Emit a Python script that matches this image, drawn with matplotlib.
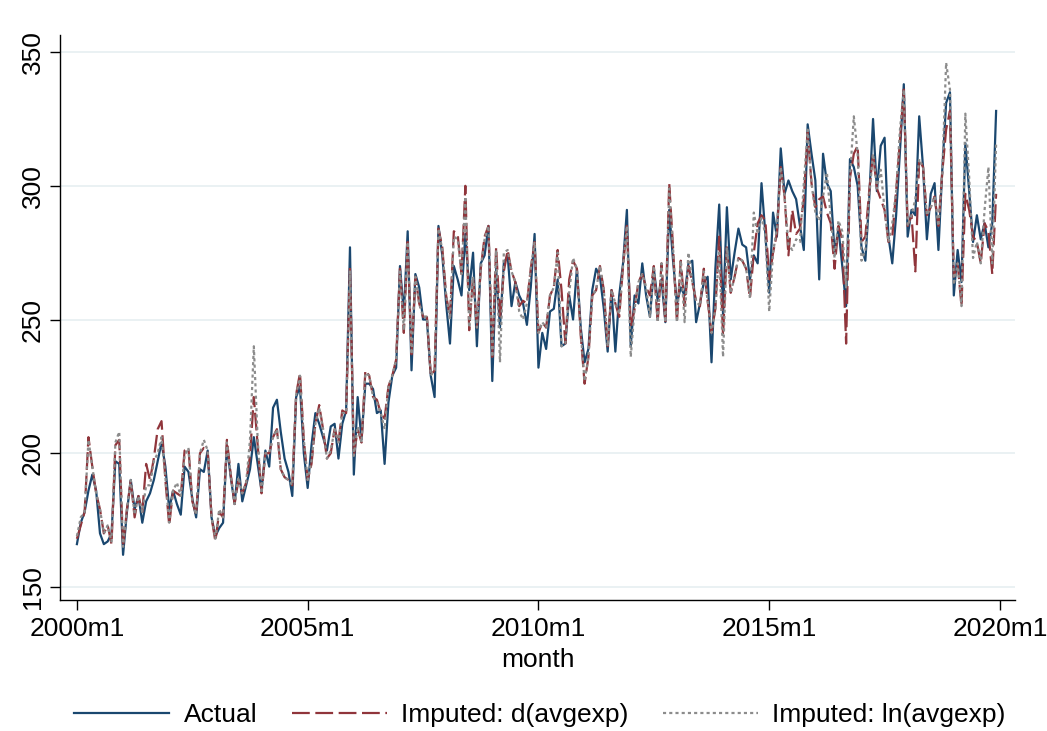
import matplotlib
matplotlib.use("Agg")
import matplotlib.pyplot as plt
import numpy as np

plt.rcParams['font.family'] = ['Liberation Sans', 'DejaVu Sans']

# monthly series, 2000m1 .. 2019m12
actual = [
    166, 174, 178, 186, 192, 186, 170, 166, 167, 170,
    197, 196, 162, 178, 190, 179, 184, 174, 182, 185,
    190, 197, 204, 195, 179, 186, 181, 177, 195, 193,
    183, 176, 194, 193, 201, 176, 169, 172, 174, 203,
    191, 181, 196, 182, 188, 194, 206, 196, 186, 201,
    195, 217, 220, 208, 198, 193, 184, 221, 225, 200,
    187, 203, 215, 211, 206, 201, 210, 211, 198, 211,
    216, 277, 192, 221, 205, 226, 226, 224, 215, 216,
    196, 219, 229, 232, 270, 252, 283, 231, 267, 262,
    250, 250, 229, 221, 285, 274, 256, 241, 270, 265,
    259, 282, 261, 275, 240, 271, 274, 285, 227, 269,
    247, 271, 274, 255, 264, 259, 256, 248, 262, 282,
    232, 245, 239, 253, 254, 265, 240, 241, 259, 250,
    269, 247, 234, 239, 261, 269, 266, 254, 238, 261,
    238, 259, 271, 291, 240, 259, 256, 271, 259, 251,
    269, 257, 265, 249, 291, 272, 256, 262, 259, 271,
    272, 249, 256, 264, 266, 234, 269, 293, 252, 292,
    265, 275, 284, 278, 277, 265, 274, 271, 301, 282,
    260, 290, 281, 314, 297, 302, 298, 295, 285, 276,
    323, 312, 302, 265, 312, 301, 298, 275, 284, 270,
    255, 310, 307, 300, 277, 272, 295, 325, 298, 315,
    318, 281, 271, 289, 313, 338, 281, 291, 289, 326,
    307, 280, 297, 301, 276, 306, 331, 335, 259, 276,
    264, 316, 298, 279, 289, 280, 286, 277, 286, 328,
]

imp_d = [
    168, 173, 178, 206, 195, 185, 179, 170, 173, 166,
    203, 205, 165, 179, 190, 176, 184, 178, 196, 190,
    198, 209, 212, 190, 173, 186, 185, 184, 201, 202,
    182, 177, 200, 202, 201, 176, 167, 178, 176, 205,
    192, 181, 190, 185, 189, 199, 221, 203, 185, 200,
    200, 206, 209, 194, 191, 190, 188, 222, 230, 205,
    190, 196, 211, 218, 209, 198, 200, 209, 204, 216,
    215, 270, 199, 209, 204, 231, 229, 221, 220, 215,
    213, 225, 229, 235, 269, 245, 279, 237, 266, 256,
    251, 251, 229, 231, 284, 277, 259, 251, 283, 282,
    267, 300, 246, 266, 247, 269, 281, 285, 236, 277,
    250, 268, 276, 268, 264, 255, 257, 256, 269, 279,
    245, 249, 247, 259, 262, 276, 261, 241, 265, 272,
    269, 244, 226, 236, 259, 261, 270, 261, 240, 261,
    256, 251, 270, 285, 247, 254, 264, 267, 262, 259,
    270, 249, 271, 249, 301, 277, 249, 272, 255, 270,
    264, 257, 255, 269, 257, 245, 254, 281, 244, 277,
    260, 266, 273, 272, 269, 258, 275, 286, 289, 287,
    265, 275, 282, 307, 296, 274, 291, 282, 284, 295,
    320, 301, 292, 295, 296, 290, 286, 269, 285, 280,
    241, 303, 312, 315, 279, 281, 298, 312, 299, 295,
    291, 279, 281, 298, 317, 336, 285, 289, 268, 310,
    307, 289, 292, 296, 285, 305, 321, 328, 266, 271,
    255, 297, 291, 281, 279, 271, 286, 283, 267, 297,
]

imp_ln = [
    169, 176, 178, 205, 195, 185, 179, 170, 173, 167,
    204, 208, 165, 179, 190, 177, 184, 178, 188, 188,
    197, 200, 206, 191, 174, 186, 189, 184, 199, 202,
    182, 177, 200, 205, 201, 176, 168, 179, 176, 204,
    192, 181, 191, 185, 189, 205, 240, 205, 185, 200,
    200, 206, 209, 194, 191, 190, 188, 222, 229, 205,
    190, 197, 211, 217, 209, 198, 201, 209, 204, 215,
    215, 268, 199, 210, 204, 230, 229, 221, 219, 215,
    209, 225, 229, 235, 268, 246, 279, 237, 266, 256,
    251, 251, 229, 231, 284, 276, 259, 250, 281, 280,
    267, 296, 247, 266, 247, 269, 280, 285, 236, 276,
    234, 275, 276, 268, 264, 253, 250, 256, 269, 279,
    245, 249, 247, 259, 262, 275, 240, 241, 260, 273,
    269, 245, 227, 236, 259, 261, 270, 261, 240, 261,
    256, 252, 270, 285, 236, 254, 264, 267, 262, 251,
    270, 249, 271, 249, 299, 277, 249, 272, 249, 275,
    264, 257, 255, 268, 257, 245, 254, 275, 236, 277,
    260, 266, 273, 272, 269, 258, 290, 282, 288, 282,
    253, 275, 284, 307, 296, 278, 276, 280, 279, 301,
    321, 301, 290, 287, 296, 305, 288, 273, 287, 283,
    262, 303, 326, 312, 272, 276, 296, 312, 299, 306,
    291, 279, 286, 298, 321, 336, 285, 289, 295, 310,
    307, 289, 292, 296, 285, 305, 346, 336, 263, 271,
    255, 327, 303, 273, 279, 271, 291, 307, 271, 316,
]

tick_months = [0, 60, 120, 180, 240]
tick_labels = ['2000m1', '2005m1', '2010m1', '2015m1', '2020m1']
y_ticks = [150, 200, 250, 300, 350]

months = np.arange(len(actual))

fig = plt.figure(figsize=(10.47, 7.31), dpi=100)
ax = fig.add_axes([0.0573, 0.1792, 0.9121, 0.7729])

ax.plot(months, actual, color='#1a476f', lw=1.6, label='Actual')
ax.plot(months, imp_d, color='#90353b', lw=1.6, dashes=(8, 2.5),
        label='Imputed: d(avgexp)')
ax.plot(months, imp_ln, color='#8c8c8c', lw=1.6, dashes=(1.4, 1.4),
        label='Imputed: ln(avgexp)')

ax.set_xlim(-4.4, 243.9)
ax.set_ylim(145.1, 356.4)
ax.set_xticks(tick_months)
ax.set_xticklabels(tick_labels)
ax.set_yticks(y_ticks)
ax.set_yticklabels([str(v) for v in y_ticks], rotation=90, va='center')
ax.grid(axis='y', color='#e6eff1', lw=1.2)
ax.set_axisbelow(True)
for s in ['top', 'right']:
    ax.spines[s].set_visible(False)
for s in ['left', 'bottom']:
    ax.spines[s].set_linewidth(1.0)
ax.tick_params(labelsize=19, length=7, width=1.0, pad=5)
ax.tick_params(axis='y', pad=4)
ax.set_xlabel('month', fontsize=19, labelpad=5)

fig.legend(loc='center', bbox_to_anchor=(540 / 1047, 1 - 715 / 731), ncol=3,
           frameon=False, fontsize=19, handlelength=3.6, columnspacing=1.3,
           handletextpad=0.55)

fig.savefig('out.png', dpi=100, facecolor='white')
